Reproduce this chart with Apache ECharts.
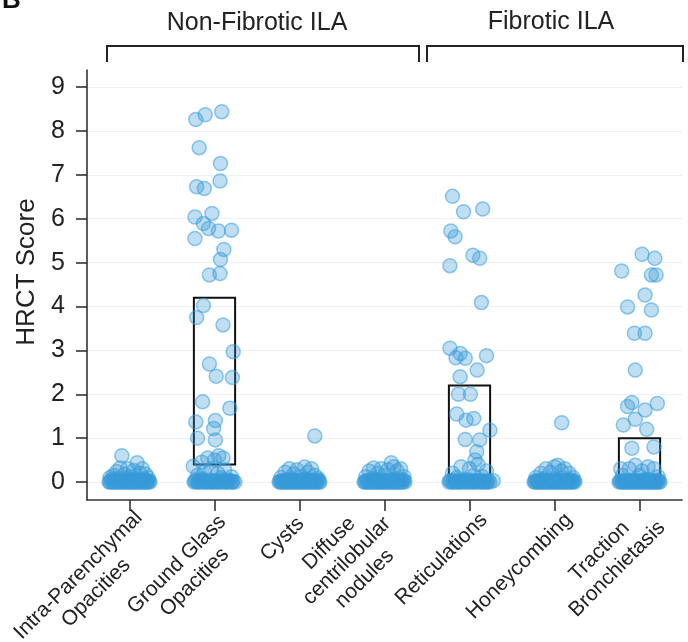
<!DOCTYPE html>
<html>
<head>
<meta charset="utf-8">
<script src="https://cdn.jsdelivr.net/npm/echarts@6/dist/echarts.min.js"></script>
<style>html,body{margin:0;padding:0;background:#fff;}#c{width:688px;height:642px;}</style>
</head>
<body>
<div id="c"></div>
<script>
const categories = ['Intra-Parenchymal\nOpacities', 'Ground Glass\nOpacities', 'Cysts', 'Diffuse\ncentrilobular\nnodules', 'Reticulations', 'Honeycombing', 'Traction\nBronchietasis'];
const tickValues = [0, 1, 2, 3, 4, 5, 6, 7, 8, 9];
const groupNames = ['Non-Fibrotic ILA', 'Fibrotic ILA'];
const boxLow  = [0, 0.4, 0, 0, 0, 0, 0];
const boxHigh = [0, 4.2, 0, 0, 2.2, 0, 1.0];

// points: [horizontal jitter within category, HRCT score]
const ptsIPO = [[-0.24,0],[-0.22,0.02],[-0.2,0],[-0.18,0.04],[-0.16,0],[-0.14,0.01],[-0.12,0],[-0.1,0.03],[-0.08,0],[-0.06,0.02],[-0.04,0],[-0.02,0.05],[0,0],[0.02,0.01],[0.04,0],[0.06,0.03],[0.08,0],[0.1,0.02],[0.12,0],[0.14,0.04],[0.16,0],[0.18,0.01],[0.2,0],[0.22,0.03],[0.24,0],
  [-0.23,0],[-0.21,0.06],[-0.19,0],[-0.17,0.02],[-0.15,0],[-0.13,0.03],[-0.11,0],[-0.09,0.01],[-0.07,0],[-0.05,0.04],[-0.03,0],[-0.01,0.02],[0.01,0],[0.03,0.05],[0.05,0],[0.07,0.01],[0.09,0],[0.11,0.03],[0.13,0],[0.15,0.02],[0.17,0],[0.19,0.04],[0.21,0],[0.23,0.01],
  [-0.23,0.1],[-0.19,0.15],[-0.15,0.24],[-0.11,0.32],[-0.09,0.6],[-0.06,0.18],[-0.02,0.3],[0.01,0.12],[0.05,0.26],[0.09,0.44],[0.12,0.2],[0.15,0.3],[0.19,0.18],[0.22,0.1],[-0.13,0.08],[0.07,0.08],[0.17,0.07],[-0.03,0.08]];
const ptsGGO = [[-0.24,0],[-0.22,0.03],[-0.2,0],[-0.18,0.01],[-0.16,0],[-0.14,0.05],[-0.12,0],[-0.1,0.02],[-0.08,0],[-0.06,0.04],[-0.04,0],[-0.02,0.01],[0,0],[0.02,0.03],[0.04,0],[0.06,0.02],[0.08,0],[0.1,0.05],[0.12,0],[0.14,0.01],[0.16,0],[0.18,0.03],[0.2,0],[0.22,0.02],[0.24,0],
  [-0.23,0.02],[-0.19,0],[-0.15,0.04],[-0.11,0],[-0.07,0.01],[-0.03,0],[0.01,0.03],[0.05,0],[0.09,0.02],[0.13,0],[0.17,0.04],[0.21,0],
  [-0.2,0.15],[-0.12,0.25],[-0.04,0.3],[0.04,0.2],[0.12,0.28],[0.2,0.12],[-0.16,0.08],[0.08,0.1],
  [-0.08,0.55],[0.05,0.6],[0.1,0.55],[-0.25,0.36],[-0.15,0.45],[0.0,0.5],
  [-0.22,8.26],[-0.11,8.37],[0.085,8.44],[-0.18,7.62],[0.07,7.26],[0.065,6.86],[-0.21,6.73],[-0.12,6.69],[-0.23,6.04],[-0.03,6.12],[-0.13,5.89],[-0.07,5.78],[0.045,5.72],[0.2,5.74],[-0.23,5.55],[0.11,5.3],[0.07,5.07],[0.065,4.75],[-0.06,4.72],[-0.13,4.02],[-0.21,3.75],[0.1,3.58],[0.22,2.97],[-0.06,2.69],[0.02,2.41],[0.21,2.38],[-0.14,1.83],[0.18,1.68],[-0.22,1.37],[0.01,1.4],[-0.01,1.22],[-0.2,1.0],[0.01,0.96]];
const ptsCysts = [[-0.24,0],[-0.22,0.02],[-0.2,0],[-0.18,0.03],[-0.16,0],[-0.14,0.01],[-0.12,0],[-0.1,0.04],[-0.08,0],[-0.06,0.02],[-0.04,0],[-0.02,0.03],[0,0],[0.02,0.01],[0.04,0],[0.06,0.05],[0.08,0],[0.1,0.02],[0.12,0],[0.14,0.03],[0.16,0],[0.18,0.01],[0.2,0],[0.22,0.04],[0.24,0],
  [-0.23,0.01],[-0.21,0],[-0.19,0.03],[-0.17,0],[-0.15,0.02],[-0.13,0],[-0.11,0.05],[-0.09,0],[-0.07,0.01],[-0.05,0],[-0.03,0.04],[-0.01,0],[0.01,0.02],[0.03,0],[0.05,0.03],[0.07,0],[0.09,0.01],[0.11,0],[0.13,0.04],[0.15,0],[0.17,0.02],[0.19,0],[0.21,0.03],[0.23,0],
  [-0.22,0.1],[-0.17,0.22],[-0.12,0.3],[-0.07,0.18],[-0.03,0.28],[0.02,0.12],[0.06,0.34],[0.1,0.22],[0.14,0.3],[0.18,0.15],[0.22,0.08],[-0.1,0.08],[0.08,0.07],[0.18,1.05]];
const ptsDCN = [[-0.24,0],[-0.22,0.01],[-0.2,0],[-0.18,0.03],[-0.16,0],[-0.14,0.02],[-0.12,0],[-0.1,0.05],[-0.08,0],[-0.06,0.01],[-0.04,0],[-0.02,0.03],[0,0],[0.02,0.02],[0.04,0],[0.06,0.04],[0.08,0],[0.1,0.01],[0.12,0],[0.14,0.03],[0.16,0],[0.18,0.02],[0.2,0],[0.22,0.05],[0.24,0],
  [-0.23,0],[-0.21,0.03],[-0.19,0],[-0.17,0.01],[-0.15,0],[-0.13,0.04],[-0.11,0],[-0.09,0.02],[-0.07,0],[-0.05,0.05],[-0.03,0],[-0.01,0.01],[0.01,0],[0.03,0.03],[0.05,0],[0.07,0.02],[0.09,0],[0.11,0.04],[0.13,0],[0.15,0.01],[0.17,0],[0.19,0.03],[0.21,0],[0.23,0.02],
  [-0.22,0.12],[-0.18,0.25],[-0.13,0.32],[-0.08,0.2],[-0.04,0.3],[0.0,0.15],[0.04,0.28],[0.08,0.44],[0.11,0.35],[0.15,0.25],[0.19,0.3],[0.23,0.12],[-0.15,0.08],[0.12,0.08]];
const ptsRet = [[-0.24,0],[-0.22,0.02],[-0.2,0],[-0.18,0.04],[-0.16,0],[-0.14,0.01],[-0.12,0],[-0.1,0.03],[-0.08,0],[-0.06,0.02],[-0.04,0],[-0.02,0.05],[0,0],[0.02,0.01],[0.04,0],[0.06,0.03],[0.08,0],[0.1,0.02],[0.12,0],[0.14,0.04],[0.16,0],[0.18,0.01],[0.2,0],[0.22,0.03],[0.24,0],
  [-0.23,0.03],[-0.19,0],[-0.15,0.01],[-0.11,0],[-0.07,0.04],[-0.03,0],[0.01,0.02],[0.05,0],[0.09,0.03],[0.13,0],[0.17,0.01],[0.21,0],
  [-0.2,0.2],[-0.1,0.35],[0.0,0.3],[0.1,0.4],[0.2,0.25],[-0.15,0.1],[0.15,0.12],[0.05,0.15],
  [-0.2,6.51],[-0.07,6.16],[0.155,6.22],[-0.22,5.72],[-0.17,5.59],[0.04,5.17],[0.12,5.1],[-0.23,4.93],[0.14,4.09],[-0.23,3.05],[-0.11,2.93],[-0.16,2.83],[-0.05,2.82],[0.2,2.88],[0.09,2.55],[-0.11,2.4],[-0.13,2.0],[0.01,2.0],[-0.15,1.55],[-0.04,1.41],[0.05,1.45],[0.24,1.18],[-0.05,0.97],[0.12,0.96],[0.085,0.69],[0.065,0.5],[0.28,0.03]];
const ptsHoney = [[-0.24,0],[-0.22,0.03],[-0.2,0],[-0.18,0.01],[-0.16,0],[-0.14,0.04],[-0.12,0],[-0.1,0.02],[-0.08,0],[-0.06,0.03],[-0.04,0],[-0.02,0.01],[0,0],[0.02,0.04],[0.04,0],[0.06,0.02],[0.08,0],[0.1,0.03],[0.12,0],[0.14,0.01],[0.16,0],[0.18,0.05],[0.2,0],[0.22,0.02],[0.24,0],
  [-0.23,0],[-0.21,0.02],[-0.19,0],[-0.17,0.04],[-0.15,0],[-0.13,0.01],[-0.11,0],[-0.09,0.03],[-0.07,0],[-0.05,0.02],[-0.03,0],[-0.01,0.05],[0.01,0],[0.03,0.01],[0.05,0],[0.07,0.03],[0.09,0],[0.11,0.02],[0.13,0],[0.15,0.04],[0.17,0],[0.19,0.01],[0.21,0],[0.23,0.03],
  [-0.22,0.1],[-0.16,0.2],[-0.1,0.3],[-0.05,0.22],[0.0,0.35],[0.04,0.38],[0.08,0.25],[0.12,0.3],[0.17,0.2],[0.22,0.1],[-0.12,0.08],[0.1,0.08],[0.085,1.35]];
const ptsTrac = [[-0.24,0],[-0.22,0.02],[-0.2,0],[-0.18,0.03],[-0.16,0],[-0.14,0.01],[-0.12,0],[-0.1,0.04],[-0.08,0],[-0.06,0.02],[-0.04,0],[-0.02,0.03],[0,0],[0.02,0.01],[0.04,0],[0.06,0.05],[0.08,0],[0.1,0.02],[0.12,0],[0.14,0.03],[0.16,0],[0.18,0.01],[0.2,0],[0.22,0.04],[0.24,0],
  [-0.23,0.02],[-0.21,0],[-0.19,0.01],[-0.17,0],[-0.15,0.03],[-0.13,0],[-0.11,0.02],[-0.09,0],[-0.07,0.04],[-0.05,0],[-0.03,0.01],[-0.01,0],[0.01,0.03],[0.03,0],[0.05,0.02],[0.07,0],[0.09,0.05],[0.11,0],[0.13,0.01],[0.15,0],[0.17,0.03],[0.19,0],[0.21,0.02],[0.23,0],
  [-0.2,0.15],[-0.12,0.3],[-0.05,0.38],[0.03,0.25],[0.1,0.35],[0.17,0.3],[0.22,0.12],[-0.22,0.3],[0.0,0.15],
  [0.03,5.19],[0.18,5.1],[0.14,4.72],[0.195,4.72],[-0.21,4.81],[0.065,4.26],[-0.14,3.99],[0.14,3.92],[-0.06,3.39],[0.065,3.39],[-0.05,2.55],[-0.09,1.81],[-0.14,1.72],[0.21,1.79],[0.065,1.64],[-0.05,1.43],[0.085,1.2],[-0.19,1.3],[-0.09,0.77],[0.17,0.8]];

const pointGroups = [ptsIPO, ptsGGO, ptsCysts, ptsDCN, ptsRet, ptsHoney, ptsTrac];

// label placement (style, not data): [padding-top, padding-right] in the rotated label frame
const labelPad = [[64, 6], [68, 10], [36, 16], [38, 15], [49, 4], [49, 4], [46, 4]];

const scatterData = [];
pointGroups.forEach((g, i) => g.forEach(p => scatterData.push([i + p[0], p[1]])));
const boxData = categories.map((c, i) => [i, boxLow[i], boxHigh[i]]);
const categoryItems = categories.map((c, i) => ({value: c, textStyle: {padding: [labelPad[i][0], labelPad[i][1], 0, 0]}}));

const FONT = '"Liberation Sans", Arial, Helvetica, sans-serif';
const chart = echarts.init(document.getElementById('c'), null, {renderer: 'canvas'});
chart.setOption({
  animation: false,
  backgroundColor: '#fff',
  textStyle: {fontFamily: FONT},
  grid: {left: 87, right: 6, top: 70, bottom: 142, containLabel: false, outerBoundsMode: 'none'},
  xAxis: [{
    type: 'category',
    data: categoryItems,
    boundaryGap: true,
    axisLine: {show: true, onZero: false, lineStyle: {color: '#333', width: 1.6}},
    axisTick: {show: true, alignWithLabel: true, length: 11, lineStyle: {color: '#333', width: 1.6}},
    axisLabel: {
      interval: 0, rotate: 45, margin: -3.5, color: '#222', fontSize: 21, fontFamily: FONT,
      formatter: v => v.split('\n').map(s => '{c|' + s + '}').join('\n'),
      rich: {c: {align: 'center', fontSize: 21, lineHeight: 25, color: '#222', fontFamily: FONT}}
    },
    splitLine: {show: false}
  }, {
    type: 'value', min: -0.5, max: 6.5, show: false, axisLine: {onZero: false}
  }],
  yAxis: {
    type: 'value', min: -0.41, max: 9.39,
    name: 'HRCT Score', nameLocation: 'middle', nameGap: 46,
    nameTextStyle: {fontSize: 26, color: '#222', fontFamily: FONT, padding: [0, 0, 0, 26]},
    axisLine: {show: true, onZero: false, lineStyle: {color: '#333', width: 1.6}},
    axisTick: {show: true, length: 11, customValues: tickValues, lineStyle: {color: '#333', width: 1.6}},
    axisLabel: {customValues: tickValues, fontSize: 25, margin: 22, color: '#222', fontFamily: FONT},
    splitLine: {show: true, lineStyle: {color: '#eef0f1', width: 1.2}}
  },
  series: [{
    type: 'custom',
    xAxisIndex: 0, yAxisIndex: 0,
    z: 1,
    data: boxData,
    encode: {x: 0, y: [1, 2]},
    renderItem: function (params, api) {
      const lo = api.value(1), hi = api.value(2);
      if (hi <= lo) return null;
      const p1 = api.coord([api.value(0), hi]);
      const p0 = api.coord([api.value(0), lo]);
      const w = api.size([1, 0])[0] * 0.485;
      return {
        type: 'rect',
        shape: {x: p1[0] - w / 2, y: p1[1], width: w, height: p0[1] - p1[1]},
        style: {fill: 'none', stroke: '#111', lineWidth: 2}
      };
    }
  }, {
    type: 'scatter',
    xAxisIndex: 1, yAxisIndex: 0,
    z: 2,
    symbol: 'circle',
    symbolSize: 14,
    data: scatterData,
    itemStyle: {color: 'rgba(56,152,216,0.32)', borderColor: 'rgba(56,158,220,0.55)', borderWidth: 1.5, opacity: 1},
    emphasis: {disabled: true}
  }],
  graphic: [
    {type: 'text', left: 2, top: -12, style: {text: 'B', font: 'bold 26px ' + FONT, fill: '#111'}},
    {type: 'polyline', shape: {points: [[107, 62], [107, 46], [419, 46], [419, 62]]}, style: {stroke: '#222', lineWidth: 2, fill: 'none'}},
    {type: 'polyline', shape: {points: [[427, 62], [427, 46], [683, 46], [683, 62]]}, style: {stroke: '#222', lineWidth: 2, fill: 'none'}},
    {type: 'text', x: 257, y: 23, style: {text: groupNames[0], font: '25px ' + FONT, fill: '#222', align: 'center', verticalAlign: 'middle'}},
    {type: 'text', x: 551, y: 22, style: {text: groupNames[1], font: '25px ' + FONT, fill: '#222', align: 'center', verticalAlign: 'middle'}}
  ]
});
</script>
</body>
</html>
